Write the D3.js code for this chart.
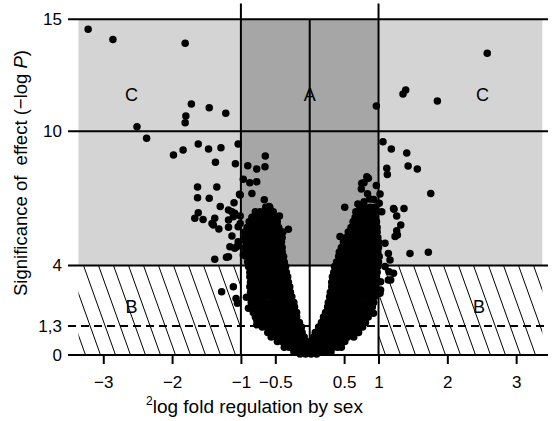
<!DOCTYPE html>
<html>
<head>
<meta charset="utf-8">
<script src="https://cdn.jsdelivr.net/npm/d3@7"></script>
<style>
  body { margin: 0; background: #fff; }
  svg { display: block; }
  text { font-family: "Liberation Sans", Arial, Helvetica, sans-serif; fill: #000; }
</style>
</head>
<body>
<svg id="chart" width="554" height="421"></svg>
<script>
// ---- axis ticks ----
const xTicks = [-3, -2, -1, -0.5, 0.5, 1, 2, 3];
const xTickLabels = ["\u22123", "\u22122", "\u22121", "\u22120.5", "0.5", "1", "2", "3"];
const yTicks = [0, 1.3, 4, 10, 15];
const yTickLabels = ["0", "1,3", "4", "10", "15"];

// ---- thresholds ----
const foldCut = [-1, 1];          // |log2 fold| = 1
const sigSolid = [4, 10, 15];     // solid reference levels (-log P)
const sigDashed = 1.3;            // P = 0.05

// ---- zone labels: [text, log2 fold, -log P] ----
const zoneLabels = [
  ["C", -2.59, 11.6], ["A", 0, 11.6], ["C", 2.51, 11.6],
  ["B", -2.59, 2.16], ["B", 2.46, 2.16]
];

// ---- genes outside the dense core: [log2 fold, -log P] ----
const sparseGenes = [
  [-3.22,14.55],[-2.86,14.1],[-1.81,13.93],[-1.72,11.22],[-1.46,11.05],[-1.22,10.8],
  [-1.80,10.68],[-1.81,10.38],[-2.51,10.2],[-2.37,9.68],[-1.98,8.94],[-1.84,9.16],
  [-1.62,9.43],[-1.47,9.2],[-1.29,9.26],[-1.04,9.43],[-1.37,8.61],[-1.08,8.55],
  [-0.90,8.46],[-0.77,8.31],[-0.65,8.41],[-0.645,8.89],[-0.965,7.85],[-0.87,7.7],
  [-0.77,7.74],[-1.63,7.51],[-1.35,7.51],[-1.63,7.03],[-1.46,7.0],[-1.02,7.18],
  [-0.84,7.22],[-1.10,6.8],[-0.66,6.94],[-1.30,6.63],[-0.59,6.63],
  [-1.13,6.4],[-1.11,6.18],[-1.18,6.48],[-1.38,6.11],[-1.42,5.88],[-1.55,6.06],
  [-1.32,5.63],[-1.18,5.71],[-1.13,5.32],[-1.04,5.73],[-1.09,4.77],[-1.04,5.06],
  [-1.38,4.28],[-1.21,4.37],[-1.67,6.11],[-1.62,6.36],[-1.40,5.81],[-1.16,4.84],
  [-1.01,6.21],[-1.09,6.33],[-1.18,6.03],[-1.01,5.88],[-1.06,4.84],[-1.18,4.39],
  [-0.965,4.47],[-1.01,7.15],[-0.44,6.21],[-0.31,5.62],
  [-1.28,2.83],[-1.11,3.05],[-1.07,2.53],[-1.05,2.31],[-0.89,2.09],[-0.77,1.56],
  [-0.92,2.58],[-0.77,1.35],
  [2.58,13.48],[1.395,11.84],[1.356,11.66],[1.855,11.35],[0.968,11.13],[1.065,9.53],
  [1.186,9.2],[1.41,9.03],[1.12,8.34],[1.128,8.07],[1.43,8.45],[1.564,8.31],
  [1.759,7.22],[0.852,7.9],[0.789,7.7],[0.75,7.42],[0.968,7.57],[1.022,7.19],
  [0.872,6.97],[0.509,6.6],[1.218,6.55],[1.37,6.55],[0.83,7.97],[0.756,7.67],
  [1.01,6.78],[0.964,6.48],[1.047,6.4],[1.225,6.51],[1.264,6.21],[0.9,6.03],
  [0.804,6.4],[0.73,6.18],[1.264,5.55],[1.24,5.29],[0.44,5.29],[1.094,4.99],
  [1.143,4.54],[1.167,4.24],[1.094,3.95],[1.218,3.65],[1.143,3.35],[1.022,2.76],
  [0.927,1.86],[0.683,1.19],[1.457,4.54],[1.724,4.59],[1.323,5.81],[1.274,5.36],
  [1.153,3.72],[1.03,3.27],[1.177,3.35],[1.03,2.9],[0.887,2.23],
  [0.84,7.2],[0.79,6.85],[0.70,6.75],[0.93,6.95]
];

// ---- dense core, listed by -log P level: [-log P, [log2 fold, ...]] ----
const coreRows = [
  [6.6, [-0.64,-0.58, 0.73,0.80,0.88,0.95]],
  [6.4, [-0.79,-0.72,-0.65,-0.58,-0.53, 0.67,0.74,0.81,0.88,0.95]],
  [6.15,[-0.84,-0.77,-0.70,-0.64,-0.57,-0.50, 0.66,0.73,0.80,0.87,0.94]],
  [5.95,[-0.88,-0.81,-0.75,-0.68,-0.61,-0.54,-0.47, 0.63,0.70,0.77,0.84,0.91,0.97]],
  [5.7, [-0.91,-0.85,-0.78,-0.71,-0.64,-0.57,-0.51,-0.45, 0.60,0.67,0.74,0.81,0.88,0.94,0.98]],
  [5.5, [-0.94,-0.87,-0.80,-0.74,-0.67,-0.60,-0.53,-0.46,-0.39, 0.56,0.63,0.70,0.77,0.84,0.91,0.98]],
  [5.25,[-0.94,-0.88,-0.81,-0.74,-0.67,-0.61,-0.54,-0.47,-0.40, 0.53,0.60,0.67,0.74,0.81,0.88,0.94,0.99]],
  [5.05,[-0.93,-0.86,-0.79,-0.73,-0.66,-0.59,-0.52,-0.46,-0.41, 0.49,0.56,0.63,0.70,0.77,0.84,0.91,0.97,1.0]],
  [4.8, [-0.94,-0.87,-0.81,-0.74,-0.67,-0.60,-0.54,-0.47,-0.40, 0.46,0.53,0.60,0.67,0.74,0.81,0.88,0.94,1.0]],
  [4.6, [-0.93,-0.86,-0.79,-0.72,-0.66,-0.59,-0.52,-0.46,-0.40, 0.43,0.50,0.57,0.64,0.71,0.78,0.85,0.92,0.99]],
  [4.4, [-0.92,-0.85,-0.79,-0.72,-0.65,-0.58,-0.52,-0.45,-0.38, 0.42,0.49,0.56,0.63,0.70,0.77,0.84,0.91,0.97,1.01]],
  [4.15,[-0.90,-0.83,-0.77,-0.70,-0.63,-0.57,-0.50,-0.43,-0.37, 0.39,0.46,0.53,0.60,0.67,0.74,0.81,0.88,0.95,1.0]],
  [3.95,[-0.89,-0.82,-0.75,-0.69,-0.62,-0.55,-0.49,-0.42,-0.35, 0.36,0.43,0.50,0.57,0.64,0.71,0.78,0.85,0.92,0.99]],
  [3.7, [-0.87,-0.80,-0.74,-0.67,-0.60,-0.54,-0.47,-0.40,-0.34, 0.35,0.42,0.49,0.56,0.63,0.70,0.77,0.84,0.91,0.98]],
  [3.5, [-0.87,-0.81,-0.74,-0.67,-0.61,-0.54,-0.47,-0.39,-0.32, 0.33,0.40,0.47,0.54,0.61,0.68,0.75,0.82,0.89,0.97]],
  [3.25,[-0.86,-0.80,-0.73,-0.66,-0.59,-0.52,-0.45,-0.38,-0.31, 0.32,0.39,0.46,0.53,0.60,0.67,0.74,0.81,0.88,0.96]],
  [3.05,[-0.87,-0.80,-0.73,-0.66,-0.59,-0.51,-0.44,-0.36,-0.29, 0.32,0.39,0.46,0.53,0.60,0.67,0.74,0.81,0.88,0.96]],
  [2.8, [-0.86,-0.79,-0.72,-0.65,-0.58,-0.50,-0.43,-0.35,-0.28, 0.30,0.37,0.44,0.51,0.58,0.65,0.72,0.79,0.87,0.95]],
  [2.6, [-0.85,-0.78,-0.71,-0.64,-0.56,-0.49,-0.41,-0.33,-0.26, 0.29,0.36,0.43,0.50,0.57,0.64,0.71,0.79,0.87,0.94]],
  [2.35,[-0.85,-0.78,-0.70,-0.63,-0.55,-0.47,-0.39,-0.31,-0.23, 0.27,0.34,0.41,0.48,0.55,0.62,0.70,0.78,0.86,0.93]],
  [2.15,[-0.84,-0.77,-0.69,-0.62,-0.54,-0.46,-0.38,-0.30,-0.22, 0.26,0.33,0.40,0.47,0.54,0.61,0.69,0.77,0.84,0.91]],
  [1.9, [-0.82,-0.74,-0.67,-0.59,-0.51,-0.43,-0.35,-0.27,-0.19, 0.23,0.30,0.37,0.44,0.51,0.58,0.66,0.74,0.81,0.88]],
  [1.7, [-0.79,-0.72,-0.64,-0.57,-0.49,-0.42,-0.34,-0.26,-0.19, 0.20,0.27,0.34,0.41,0.48,0.56,0.63,0.71,0.78,0.85]],
  [1.45,[-0.73,-0.66,-0.59,-0.52,-0.44,-0.37,-0.29,-0.22,-0.15, 0.17,0.24,0.31,0.38,0.45,0.53,0.60,0.67,0.74,0.81]],
  [1.25,[-0.69,-0.62,-0.55,-0.47,-0.40,-0.33,-0.26,-0.19,-0.12, 0.13,0.20,0.27,0.34,0.41,0.49,0.56,0.63,0.70,0.77]],
  [1.0, [-0.61,-0.54,-0.47,-0.40,-0.33,-0.26,-0.18,-0.11, 0.08,0.15,0.22,0.29,0.36,0.43,0.50,0.57,0.64,0.71]],
  [0.8, [-0.56,-0.49,-0.42,-0.35,-0.28,-0.21,-0.14,-0.08, 0.06,0.13,0.20,0.27,0.34,0.41,0.48,0.55,0.64]],
  [0.6, [-0.47,-0.40,-0.33,-0.26,-0.19,-0.12,-0.05,0.02,0.09,0.16,0.23,0.30,0.37,0.44,0.51]],
  [0.35,[-0.37,-0.30,-0.23,-0.16,-0.09,-0.02,0.05,0.12,0.19,0.26,0.33,0.40,0.46]],
  [0.15,[-0.23,-0.16,-0.09,-0.02,0.05,0.12,0.19,0.26,0.31]],
  [0.05,[-0.14,-0.06,0.02,0.10]]
];

// ---- layout ----
const svg = d3.select("#chart");
const xDomain = [-3.36, 3.38];
const x = d3.scaleLinear().domain(xDomain).range([78.5, 542.3]);
const y = d3.scaleLinear().domain([0, 15]).range([355, 19.3]);
const ruleLeft = 68, ruleRight = 548;   // horizontal rules run past the shaded area
const lightGrey = "#d4d4d4", darkGrey = "#a6a6a6";

// shaded zones above -log P = 4
svg.append("rect")
  .attr("x", x(xDomain[0])).attr("y", y(15))
  .attr("width", x(xDomain[1]) - x(xDomain[0])).attr("height", y(4) - y(15))
  .attr("fill", lightGrey);
svg.append("rect")
  .attr("x", x(foldCut[0])).attr("y", y(15))
  .attr("width", x(foldCut[1]) - x(foldCut[0])).attr("height", y(4) - y(15))
  .attr("fill", darkGrey);

// hatched zones below -log P = 4, outside |fold| = 1
const clip = svg.append("defs").append("clipPath").attr("id", "hatchClip");
clip.append("rect").attr("x", x(xDomain[0])).attr("y", y(4))
  .attr("width", x(foldCut[0]) - x(xDomain[0])).attr("height", y(0) - y(4));
clip.append("rect").attr("x", x(foldCut[1])).attr("y", y(4))
  .attr("width", x(xDomain[1]) - x(foldCut[1])).attr("height", y(0) - y(4));
const hatchStep = 15, hatchLean = 32;
const hatchStarts = d3.range(x(xDomain[0]) - 40, x(xDomain[1]) + 10, hatchStep);
svg.append("g").attr("clip-path", "url(#hatchClip)")
  .selectAll("line").data(hatchStarts).join("line")
  .attr("x1", d => d).attr("y1", y(4))
  .attr("x2", d => d + hatchLean).attr("y2", y(0))
  .attr("stroke", "#000").attr("stroke-width", 1);

// horizontal reference rules
svg.append("g").selectAll("line").data(sigSolid).join("line")
  .attr("x1", ruleLeft).attr("x2", ruleRight)
  .attr("y1", d => y(d)).attr("y2", d => y(d))
  .attr("stroke", "#000").attr("stroke-width", 2);
svg.append("line")
  .attr("x1", ruleLeft).attr("x2", ruleRight)
  .attr("y1", y(sigDashed)).attr("y2", y(sigDashed))
  .attr("stroke", "#000").attr("stroke-width", 2).attr("stroke-dasharray", "8,5");

// vertical fold-change rules
svg.append("g").selectAll("line").data(foldCut).join("line")
  .attr("x1", d => x(d)).attr("x2", d => x(d))
  .attr("y1", 3.5).attr("y2", y(0))
  .attr("stroke", "#000").attr("stroke-width", 2);
svg.append("line")
  .attr("x1", x(0)).attr("x2", x(0))
  .attr("y1", y(15)).attr("y2", y(0))
  .attr("stroke", "#000").attr("stroke-width", 2);

// x axis
svg.append("line")
  .attr("x1", ruleLeft).attr("x2", ruleRight)
  .attr("y1", y(0)).attr("y2", y(0))
  .attr("stroke", "#000").attr("stroke-width", 2);
const xAxis = svg.append("g").attr("transform", `translate(0,${y(0)})`)
  .call(d3.axisBottom(x).tickValues(xTicks).tickSize(9).tickPadding(12)
    .tickFormat((d, i) => xTickLabels[i]));
xAxis.select(".domain").remove();
xAxis.selectAll(".tick line").attr("stroke", "#000").attr("stroke-width", 2);
xAxis.selectAll(".tick text").attr("font-size", 17)
  .attr("font-family", "Liberation Sans, Arial, sans-serif").attr("fill", "#000");

// y axis labels (the rules serve as ticks)
const yAxis = svg.append("g").attr("transform", `translate(${ruleLeft},0)`)
  .call(d3.axisLeft(y).tickValues(yTicks).tickSize(0).tickPadding(6)
    .tickFormat((d, i) => yTickLabels[i]));
yAxis.select(".domain").remove();
yAxis.selectAll(".tick text").attr("font-size", 17)
  .attr("font-family", "Liberation Sans, Arial, sans-serif").attr("fill", "#000");

// genes
const genes = sparseGenes.concat(coreRows.flatMap(([p, folds]) => folds.map(f => [f, p])));
svg.append("g").selectAll("circle").data(genes).join("circle")
  .attr("cx", d => x(d[0])).attr("cy", d => y(d[1]))
  .attr("r", 3.75).attr("fill", "#000");

// zone labels
svg.append("g").selectAll("text").data(zoneLabels).join("text")
  .attr("x", d => x(d[1])).attr("y", d => y(d[2]))
  .attr("text-anchor", "middle").attr("dominant-baseline", "central")
  .attr("font-size", 18).text(d => d[0]);

// axis titles
const xTitle = svg.append("text").attr("x", 146).attr("y", 413).attr("font-size", 19);
xTitle.append("tspan").attr("font-size", 12).attr("dy", -8).text("2");
xTitle.append("tspan").attr("dy", 8).text("log fold regulation by sex");

const yTitle = svg.append("text")
  .attr("transform", "translate(27,173) rotate(-90)")
  .attr("text-anchor", "middle").attr("font-size", 18.5)
  .style("white-space", "pre");
yTitle.append("tspan").text("Significance of  effect (\u2212log ");
yTitle.append("tspan").attr("font-style", "italic").text("P");
yTitle.append("tspan").text(")");
</script>
</body>
</html>
